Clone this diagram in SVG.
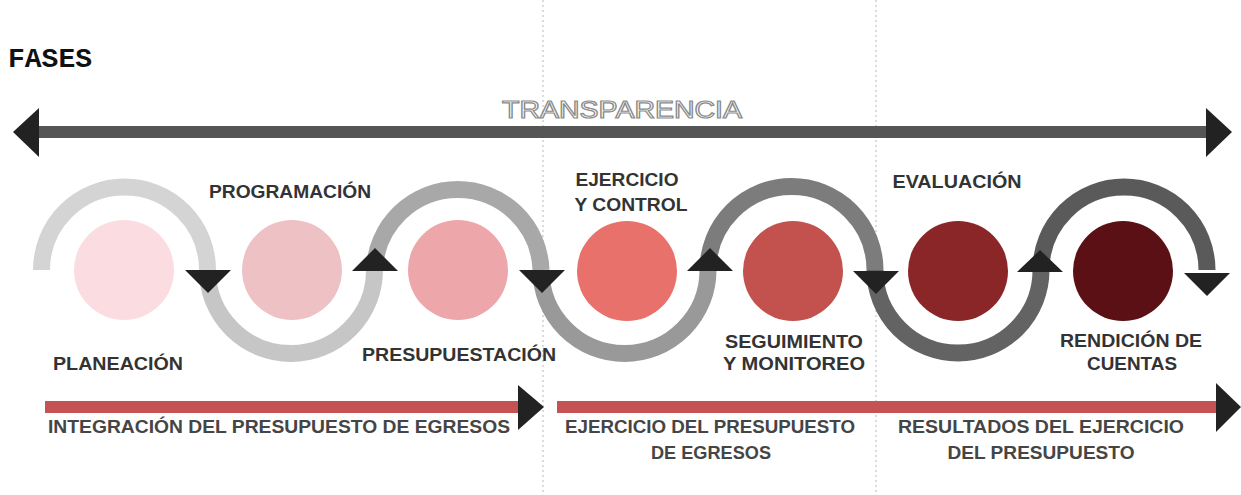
<svg xmlns="http://www.w3.org/2000/svg" width="1241" height="495" viewBox="0 0 1241 495">
<style>
.lbl{font-family:"Liberation Sans",Arial,sans-serif;font-weight:bold;font-size:17.5px;fill:#333;text-anchor:middle}
.blbl{font-family:"Liberation Sans",Arial,sans-serif;font-weight:bold;font-size:18.5px;fill:#454545;text-anchor:middle}
.arc{fill:none;stroke-width:17;stroke-linecap:butt}
.head{fill:#222}
.grid{stroke:#cfcfcf;stroke-width:1.5;stroke-dasharray:2 3}
.red{fill:#c65353}
</style>
<rect width="1241" height="495" fill="#ffffff"/>
<g id="grid">
<line class="grid" x1="543" y1="0" x2="543" y2="495"/>
<line class="grid" x1="876" y1="0" x2="876" y2="495"/>
</g>
<text x="8" y="67" font-family="'Liberation Mono', 'Courier New', monospace" font-weight="bold" font-size="28" fill="#111">FASES</text>
<g id="transparencia">
<rect x="36" y="126" width="1172" height="12" fill="#555"/>
<polygon class="head" points="13,132 39,108 39,157"/>
<polygon class="head" points="1232,132 1206,108 1206,157"/>
<text x="622" y="118" text-anchor="middle" font-family="'Liberation Sans', Arial, sans-serif" font-size="24" textLength="240" lengthAdjust="spacingAndGlyphs" fill="#fff" stroke="#8a8a8a" stroke-width="1.2">TRANSPARENCIA</text>
</g>
<g id="connectors">
<path class="arc" stroke="#d4d4d4" d="M41.5,270 A83,83 0 0 1 207.5,270"/>
<path class="arc" stroke="#c6c6c6" d="M207.5,270 A83.5,83.5 0 0 0 374.5,270"/>
<path class="arc" stroke="#a8a8a8" d="M374.5,270 A83.3,83.3 0 0 1 541,270"/>
<path class="arc" stroke="#999999" d="M541,270 A83.5,83.5 0 0 0 708,270"/>
<path class="arc" stroke="#7c7c7c" d="M708,270 A83.5,83.5 0 0 1 875,270"/>
<path class="arc" stroke="#636363" d="M875,270 A83,83 0 0 0 1041,270"/>
<path class="arc" stroke="#5a5a5a" d="M1041,270 A83,83 0 0 1 1207,270"/>
<polygon class="head" points="185,270 231,270 208,293"/>
<polygon class="head" points="352,271 398,271 375,248"/>
<polygon class="head" points="519,270 565,270 542,293"/>
<polygon class="head" points="687,271 733,271 710,248"/>
<polygon class="head" points="853,271 899,271 876,294"/>
<polygon class="head" points="1017,272 1063,272 1040,250"/>
<polygon class="head" points="1184,273 1230,273 1207,296"/>
</g>
<g id="planeacion">
<circle cx="124" cy="270" r="50" fill="#fbdde1"/>
<text class="lbl" x="118" y="370" textLength="130" lengthAdjust="spacingAndGlyphs">PLANEACIÓN</text>
</g>
<g id="programacion">
<circle cx="292" cy="270" r="50" fill="#eec2c5"/>
<text class="lbl" x="290" y="198" textLength="162" lengthAdjust="spacingAndGlyphs">PROGRAMACIÓN</text>
</g>
<g id="presupuestacion">
<circle cx="458" cy="270" r="50" fill="#eda6a9"/>
<text class="lbl" x="459" y="361" textLength="194" lengthAdjust="spacingAndGlyphs">PRESUPUESTACIÓN</text>
</g>
<g id="ejercicio">
<circle cx="627" cy="271" r="50" fill="#e8716b"/>
<text class="lbl" x="627" y="186" textLength="103" lengthAdjust="spacingAndGlyphs">EJERCICIO</text>
<text class="lbl" x="631" y="211" textLength="113" lengthAdjust="spacingAndGlyphs">Y CONTROL</text>
</g>
<g id="seguimiento">
<circle cx="793" cy="271" r="50" fill="#c3524e"/>
<text class="lbl" x="794" y="348" textLength="138" lengthAdjust="spacingAndGlyphs">SEGUIMIENTO</text>
<text class="lbl" x="794" y="370" textLength="142" lengthAdjust="spacingAndGlyphs">Y MONITOREO</text>
</g>
<g id="evaluacion">
<circle cx="958" cy="271" r="50" fill="#8a2528"/>
<text class="lbl" x="957" y="188" textLength="129" lengthAdjust="spacingAndGlyphs">EVALUACIÓN</text>
</g>
<g id="rendicion">
<circle cx="1123" cy="271" r="50" fill="#5a1014"/>
<text class="lbl" x="1131" y="347" textLength="142" lengthAdjust="spacingAndGlyphs">RENDICIÓN DE</text>
<text class="lbl" x="1132" y="370" textLength="90" lengthAdjust="spacingAndGlyphs">CUENTAS</text>
</g>
<g id="integracion">
<rect class="red" x="45" y="401" width="476" height="12"/>
<polygon class="head" points="518,385 544,407 518,430"/>
<text class="blbl" x="279" y="433" textLength="462" lengthAdjust="spacingAndGlyphs">INTEGRACIÓN DEL PRESUPUESTO DE EGRESOS</text>
</g>
<g id="ejercicio-presupuesto">
<rect class="red" x="557" y="401" width="662" height="12"/>
<polygon class="head" points="1216,383 1241,407 1216,432"/>
<text class="blbl" x="710" y="433" textLength="290" lengthAdjust="spacingAndGlyphs">EJERCICIO DEL PRESUPUESTO</text>
<text class="blbl" x="711" y="459" textLength="120" lengthAdjust="spacingAndGlyphs">DE EGRESOS</text>
<text class="blbl" x="1041" y="433" textLength="286" lengthAdjust="spacingAndGlyphs">RESULTADOS DEL EJERCICIO</text>
<text class="blbl" x="1041" y="459" textLength="187" lengthAdjust="spacingAndGlyphs">DEL PRESUPUESTO</text>
</g>
</svg>
